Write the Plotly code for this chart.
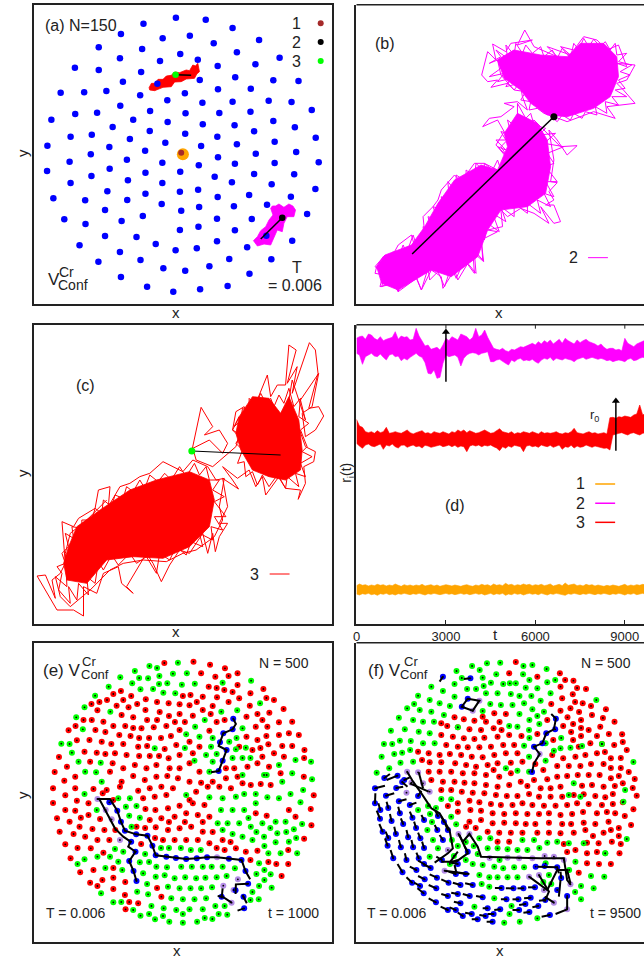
import plotly.graph_objects as go

# all values, in reading units of each panel (3 units = 1 screen pixel)
a_blue = [(459,53),(549,59),(361,71),(630,84),(293,102),(501,107),(419,115),(710,120),(573,130),(226,142),(357,147),(472,162),(643,157),(290,175),(772,173),(411,183),(525,179),(699,193),(154,203),(585,198),(226,210),(354,216),(638,232),(299,245),(531,240),(753,241),(829,243),(403,251),(111,278),(182,277),(249,273),(586,268),(685,266),(351,286),(486,280),(433,301),(630,305),(739,302),(808,306),(539,308),(291,317),(869,330),(155,342),(221,338),(381,333),(488,340),(590,339),(684,335),(83,359),(330,359),(434,366),(753,363),(268,381),(540,373),(636,376),(818,382),(380,393),(695,394),(141,410),(205,404),(487,401),(584,410),(881,413),(320,417),(427,428),(757,425),(643,433),(71,437),(258,441),(535,438),(366,452),(822,456),(202,463),(586,472),(700,461),(311,479),(138,485),(418,488),(890,487),(637,491),(757,489),(528,496),(259,506),(70,513),(204,528),(367,518),(472,515),(695,522),(816,523),(576,530),(141,549),(314,541),(418,549),(628,547),(748,553),(252,574),(880,567),(367,581),(471,575),(526,569),(585,591),(680,585),(806,590),(89,595),(185,601),(312,600),(416,612),(734,614),(634,619),(529,621),(245,630),(475,632),(855,642),(359,648),(122,658),(583,656),(688,657),(295,663),(186,672),(527,680),(471,690),(637,691),(245,708),(340,711),(732,707),(810,722),(583,724),(398,732),(168,736),(522,745),(674,742),(290,756),(458,751),(620,777),(747,778),(352,780),(225,785),(560,799),(421,805),(487,812),(681,821),(293,831),(372,860),(615,858),(532,868),(451,875)]
a_red_area = [(378,263),(385,250),(395,250),(405,238),(420,238),(430,228),(445,226),(455,216),(470,218),(490,210),(500,212),(510,195),(518,198),(525,190),(530,215),(522,222),(515,235),(490,237),(475,245),(455,246),(445,260),(420,262),(405,268),(395,272),(380,270)]
a_mag_area = [(745,625),(750,618),(760,618),(770,612),(785,622),(800,612),(812,618),(820,630),(815,650),(795,650),(785,670),(780,695),(765,690),(755,715),(745,735),(725,732),(705,738),(693,722),(705,710),(715,692),(730,680),(740,660),(752,645)]
a_line_3 = [(458,224),(505,226)]
a_line_2 = [(780,653),(715,717)]

b_area_1 = [(470,180),(520,150),(600,165),(680,170),(720,130),(790,130),(830,170),(835,230),(810,290),(760,325),(680,350),(620,345),(570,310),(540,270),(490,235)]
b_area_2 = [(105,800),(130,765),(210,735),(250,680),(290,610),(340,540),(420,495),(470,510),(500,440),(490,400),(530,340),(590,370),(620,420),(630,500),(615,580),(560,620),(480,630),(440,690),(410,770),(330,830),(270,810),(220,840),(170,870),(120,850)]
b_walk = [(640,350),(680,365),(760,335),(825,355),(800,320),(885,310),(850,270),(830,250),(860,240),(885,195),(830,190),(860,200),(835,135),(800,150),(770,120),(730,110),(700,150),(660,140),(690,165),(620,140),(650,170),(600,150),(580,140),(552,90),(530,135),(575,120),(510,130),(495,155),(455,132),(465,180),(440,155),(422,225),(440,245),(470,240),(450,262),(500,250),(520,270),(480,225),(470,180),(520,150),(545,290),(560,330),(530,305),(490,310),(520,320),(480,350),(445,355),(425,380),(470,360),(490,395),(465,435),(500,470),(480,440),(520,400),(580,360),(660,440),(710,437),(680,465),(650,420),(625,390),(640,480),(630,545),(650,548),(625,575),(640,600),(615,615),(640,615),(660,665),(640,670),(600,620),(625,670),(580,640),(540,625),(500,650),(480,630),(485,680),(440,690),(470,695),(420,720),(428,785),(400,760),(405,820),(380,790),(350,840),(340,810),(305,865),(300,830),(270,810),(240,870),(225,835),(170,875),(165,850),(115,860),(125,820),(100,800),(130,765),(140,790),(170,735),(210,705),(220,740),(250,700),(245,650),(275,620),(290,600),(300,570),(340,525),(360,545),(400,490),(430,490),(470,510)]
b_walk_2 = [(470,180),(445,190),(480,170),(465,150),(500,175),(495,135),(520,165),(525,130),(545,160),(555,135),(575,160),(600,140),(610,170),(635,150),(650,175),(665,145),(690,175),(700,130),(715,150),(730,115),(745,140),(760,118),(780,140),(795,125),(810,150),(825,130),(830,165),(860,160),(835,185),(875,195),(840,215),(870,225),(835,240),(855,265),(825,270),(860,290),(815,290),(835,315),(795,305),(800,340),(765,320),(770,345),(735,335),(725,355),(700,340),(690,360),(665,345),(650,365),(625,345),(610,340),(590,325),(565,330),(570,305),(540,300),(555,275),(520,270),(535,250),(495,260),(510,235),(470,245),(490,220),(445,230),(480,205),(470,180)]
b_walk_3 = [(105,800),(125,770),(135,790),(155,755),(170,775),(185,735),(195,760),(215,705),(225,735),(250,715),(245,680),(270,690),(260,650),(290,660),(275,620),(305,630),(300,590),(325,610),(320,545),(345,575),(345,525),(375,545),(375,510),(400,530),(405,490),(430,515),(430,490),(455,510),(470,480),(480,510),(495,470),(470,440),(495,450),(465,420),(495,420),(480,395),(510,400),(500,360),(530,385),(530,310),(555,355),(570,340),(580,375),(615,385),(595,405),(645,400),(610,430),(670,440),(620,460),(640,490),(615,500),(650,545),(615,545),(640,590),(610,580),(630,620),(590,600),(600,640),(560,610),(560,640),(520,610),(520,650),(480,620),(495,665),(455,640),(475,695),(440,670),(430,720),(420,690),(425,780),(395,745),(400,820),(370,780),(345,835),(330,800),(310,860),(290,815),(265,840),(260,805),(240,870),(220,820),(195,855),(180,835),(170,875),(150,845),(120,860),(130,825),(100,820),(105,800)]
b_line = [(640,350),(212,762)]

c_area_1 = [(650,290),(690,230),(740,235),(775,280),(800,230),(830,300),(840,390),(835,450),(790,480),(740,470),(690,450),(655,390),(640,340)]
c_area_2 = [(135,680),(160,620),(230,570),(320,510),(400,480),(500,455),(560,480),(575,540),(560,620),(500,680),(420,715),(330,710),(250,720),(190,790),(130,780),(120,730)]
c_walk = [(507,393),(535,262),(570,320),(545,345),(590,330),(615,370),(600,400),(560,360),(510,385),(520,420),(570,440),(640,380),(650,350),(630,330),(640,275),(665,260),(680,300),(735,165),(745,230),(765,195),(790,195),(800,75),(822,90),(795,190),(825,140),(810,220),(862,68),(880,90),(888,160),(878,200),(860,265),(890,260),(905,288),(880,330),(850,350),(840,280),(870,260),(890,160),(835,240),(850,300),(810,180),(800,240),(850,380),(880,395),(875,425),(845,440),(850,490),(828,538),(835,510),(790,505),(770,470),(730,525),(720,470),(700,500),(680,450),(645,475),(600,440),(630,480),(648,507),(600,475),(615,560),(590,610),(615,610),(590,650),(578,695),(570,640),(555,700),(540,640),(500,700),(470,690),(440,735),(415,785),(390,730),(370,700),(340,750),(310,800),(330,820),(295,790),(285,740),(240,760),(220,820),(180,800),(180,888),(150,870),(100,870),(70,820),(40,768),(65,765),(95,835),(85,780),(110,760),(125,730),(115,605),(150,620),(165,595),(215,565),(225,510),(260,500),(255,560),(290,500),(320,490),(350,470),(380,460),(420,425),(480,455),(510,420),(555,440),(580,480),(605,475),(590,560),(600,600),(575,650),(520,690),(480,700),(430,725),(360,720),(300,730),(260,750),(200,810),(140,860),(110,830),(95,770),(130,800),(125,700),(140,640),(190,600),(250,540)]
c_walk_2 = [(650,290),(635,320),(655,300),(660,265),(680,275),(680,235),(700,255),(715,220),(730,250),(745,235),(755,260),(770,225),(785,250),(800,205),(815,260),(835,235),(830,290),(860,310),(835,330),(855,380),(840,395),(870,410),(835,430),(850,470),(820,460),(830,500),(795,470),(790,505),(765,465),(740,500),(720,465),(705,495),(690,455),(670,470),(665,425),(645,430),(660,390),(640,370),(655,345),(630,330),(650,290)]
c_walk_3 = [(135,680),(125,640),(150,655),(145,620),(175,625),(175,600),(205,600),(215,565),(235,580),(240,540),(265,560),(275,525),(300,535),(310,500),(330,515),(350,480),(365,505),(380,465),(405,485),(425,460),(445,480),(470,440),(490,470),(515,430),(530,465),(550,440),(560,480),(590,480),(570,510),(605,530),(575,545),(610,590),(575,590),(600,630),(565,620),(570,660),(530,640),(540,680),(505,665),(490,705),(460,680),(440,720),(410,700),(400,760),(370,710),(340,730),(320,700),(285,735),(265,705),(240,750),(225,725),(215,790),(190,770),(195,825),(165,790),(160,840),(135,800),(140,850),(105,810),(115,760),(100,740),(125,730),(115,700),(135,680)]
c_line = [(507,393),(775,405)]

t_step = 100
r2_hi = [55,50,48,58,42,45,55,60,50,62,58,56,52,35,58,48,52,50,60,58,25,48,62,78,75,88,85,82,90,75,55,62,50,55,60,42,45,50,60,52,25,50,45,30,52,68,85,88,90,85,92,95,88,90,85,80,82,78,72,70,75,65,72,62,68,60,72,65,58,70,55,62,68,72,60,68,62,58,65,68,72,78,72,82,88,85,85,90,88,92,55,70,75,80,72,68,62,60,62,64]
r2_lo = [100,105,133,110,105,100,108,110,102,112,120,105,102,110,108,122,115,120,112,105,100,108,112,128,160,162,150,175,172,130,105,110,108,105,112,138,115,105,100,98,100,105,100,98,95,125,125,120,118,125,130,135,120,125,118,115,122,120,122,118,125,130,120,115,118,112,122,115,118,120,115,118,120,125,118,115,112,118,115,112,115,118,115,118,122,120,125,122,120,122,125,118,115,122,120,115,112,114,116,118]
r3_hi = [298,318,322,335,338,335,340,332,338,335,322,340,338,335,338,340,335,330,338,342,338,335,332,340,338,342,335,338,340,335,338,342,335,338,330,335,330,338,332,335,340,338,335,330,335,340,338,332,326,335,338,340,335,342,338,340,335,338,340,335,338,342,335,340,338,340,338,335,340,342,338,340,335,325,338,340,342,338,335,340,338,342,340,338,342,293,292,295,290,292,288,290,292,285,282,255,285,280,275,280]
r3_lo = [370,378,385,375,372,378,380,375,372,388,375,378,372,380,384,376,375,382,378,375,380,378,384,376,378,382,380,378,375,380,378,375,380,376,382,378,380,395,378,375,378,375,380,376,378,375,380,384,392,380,385,378,382,376,378,380,395,378,376,380,378,382,375,378,380,376,382,378,375,388,380,382,376,384,378,382,380,375,378,382,378,380,382,385,384,390,345,342,340,338,342,345,340,338,342,345,340,338,342,340]
r1_hi = [797,792,796,794,798,795,797,793,796,794,798,795,797,792,796,799,794,797,795,798,795,797,793,798,796,794,798,795,799,797,794,796,798,795,797,799,796,794,797,799,795,797,793,796,794,798,792,796,794,797,790,795,793,797,794,796,792,795,793,797,794,796,793,797,795,792,798,795,793,797,789,796,794,792,797,795,798,793,796,794,798,795,797,799,796,798,795,797,799,796,793,798,795,797,794,796,793,795,794,796]
r1_lo = [822,825,821,823,820,824,822,826,821,823,820,824,822,825,821,823,820,822,824,821,823,820,822,825,821,823,820,822,824,821,820,823,821,824,822,820,823,821,824,822,820,823,821,825,822,820,824,821,823,820,826,822,824,820,823,821,825,822,820,823,821,824,820,822,825,821,823,820,822,824,826,821,823,820,822,824,821,823,820,822,824,821,823,820,822,824,821,823,820,822,825,821,823,820,824,822,820,823,821,822]

e_red = [(424,69),(512,65),(562,74),(607,85),(645,100),(723,147),(755,180),(784,207),(810,245),(830,285),(847,330),(868,556),(866,507),(875,466),(846,596),(778,708),(135,271),(106,351),(93,396),(88,445),(88,489),(100,535),(108,575),(125,613),(141,655),(170,697),(200,728),(307,808),(293,153),(251,180),(535,100),(578,110),(558,140),(684,160),(645,135),(605,150),(650,175),(583,172),(540,170),(503,165),(368,178),(437,190),(500,196),(280,197),(316,202),(222,211),(205,240),(240,245),(295,225),(330,232),(367,210),(410,216),(470,222),(510,227),(470,193),(540,210),(682,197),(705,222),(741,218),(672,230),(770,247),(160,301),(198,300),(235,305),(270,258),(288,285),(322,288),(355,265),(392,262),(430,258),(470,270),(560,272),(700,260),(735,260),(800,280),(770,285),(738,313),(705,300),(672,290),(183,335),(220,338),(130,380),(275,340),(310,345),(345,320),(380,348),(437,355),(470,345),(510,340),(425,327),(460,315),(500,305),(530,320),(650,320),(690,330),(755,340),(720,350),(785,350),(200,365),(268,370),(300,385),(335,375),(370,385),(400,375),(433,408),(470,385),(500,370),(530,395),(635,385),(675,380),(705,370),(740,380),(155,410),(122,422),(260,395),(295,425),(330,408),(365,420),(400,410),(465,415),(500,425),(535,428),(570,425),(610,415),(645,410),(125,466),(155,445),(290,440),(345,452),(380,445),(415,440),(450,445),(520,455),(555,440),(590,440),(625,445),(660,430),(685,435),(715,432),(745,435),(430,465),(395,470),(360,475),(500,480),(160,482),(125,510),(210,447),(250,450),(155,512),(195,525),(230,537),(138,545),(172,533),(397,510),(367,507),(435,505),(470,497),(510,490),(545,495),(490,520),(525,525),(455,530),(415,535),(380,540),(340,560),(560,530),(700,520),(733,527),(820,530),(800,510),(150,582),(185,590),(207,567),(243,570),(222,600),(168,560),(202,625),(240,638),(435,570),(470,565),(505,560),(540,575),(398,562),(420,600),(455,600),(490,600),(525,600),(560,610),(600,600),(640,625),(670,635),(705,632),(210,690),(237,720),(270,747),(305,765),(345,790),(415,770),(270,713)]
e_red_2 = [(618,108),(582,144),(630,156),(270,162),(732,174),(618,186),(228,186),(204,192),(570,198),(564,222),(438,228),(606,240),(720,240),(180,240),(582,246),(456,246),(306,258),(156,258),(330,264),(216,270),(246,276),(444,288),(732,288),(378,294),(414,294),(348,294),(264,312),(300,312),(810,318),(780,318),(372,318),(714,324),(246,342),(348,348),(408,348),(846,354),(402,240),(372,240),(300,180),(324,168),(342,192),(402,186),(522,186),(480,168),(486,246),(440,385),(610,385),(775,400),(845,410),(238,460),(270,480),(195,490),(540,546),(486,546),(438,546),(366,564),(276,570),(570,576),(396,594),(258,600),(624,606),(354,612),(162,624),(582,624),(606,630),(798,630),(684,660),(738,666),(798,672),(762,672),(270,684),(306,726),(222,738),(402,744),(318,786)]
e_green = [(465,68),(379,78),(335,93),(291,112),(450,101),(492,100),(409,108),(375,115),(327,130),(256,140),(433,130),(477,134),(516,131),(600,128),(686,122),(352,148),(390,147),(421,158),(457,160),(215,167),(183,202),(713,190),(158,232),(261,215),(113,311),(178,268),(644,211),(596,215),(660,265),(517,260),(145,338),(530,290),(550,345),(620,305),(670,323),(640,328),(565,320),(395,325),(490,283),(515,362),(185,395),(218,397),(165,365),(232,368),(235,425),(560,395),(733,405),(770,375),(820,360),(780,425),(870,418),(867,365),(843,450),(183,462),(285,475),(320,475),(490,465),(560,472),(600,475),(640,470),(665,462),(700,462),(735,472),(770,475),(805,462),(835,487),(308,500),(340,498),(318,527),(350,533),(325,560),(595,510),(630,510),(665,510),(700,490),(585,550),(615,550),(650,550),(685,560),(720,550),(760,545),(790,545),(815,568),(800,605),(765,580),(725,590),(760,607),(690,600),(660,590),(825,640),(775,640),(738,640),(275,627),(300,635),(260,650),(183,658),(222,650),(285,665),(297,690),(350,667),(360,700),(400,680),(432,682),(475,680),(507,680),(540,680),(567,680),(600,680),(637,685),(710,670),(745,703),(710,738),(748,743),(709,778),(233,760),(270,787),(352,827),(396,838),(439,845),(480,848),(523,845),(569,837),(614,824),(425,706),(455,715),(487,712),(520,715),(548,713),(582,712),(398,710),(435,740),(470,745),(503,745),(535,745),(568,742),(342,755),(375,763),(445,775),(480,778),(515,778),(550,775),(385,798),(422,805),(460,810),(500,808),(540,808),(578,798)]
e_green_2 = [(402,84),(348,114),(408,132),(546,240),(642,294),(570,294),(138,312),(486,324),(582,342),(660,354),(630,354),(684,354),(570,365),(810,400),(660,405),(725,405),(220,510),(678,534),(840,552),(744,564),(600,570),(792,576),(702,576),(630,582),(822,594),(726,618),(474,624),(438,624),(414,624),(504,630),(534,630),(366,642),(378,666),(162,672),(246,684),(726,690),(702,702),(612,708),(726,720),(372,732),(690,756),(684,780),(294,786),(606,798),(330,810),(588,822),(378,822),(480,822),(420,828),(546,834)]
e_blue = [(632,236),(630,268),(602,280),(592,307),(612,330),(600,362),(588,393),(258,487),(282,512),(293,545),(305,572),(339,583),(373,587),(388,617),(398,646),(430,650),(459,654),(490,657),(522,655),(553,652),(619,656),(657,660),(669,693),(677,731),(639,751),(663,770),(665,805),(597,770),(324,605),(337,635),(318,663),(331,693),(340,723)]
e_lilac = [(222,477),(247,510),(265,538),(290,600),(583,652),(646,718),(602,737),(633,750),(627,788)]
e_path_1 = [(632,236),(640,252),(630,268),(602,280),(588,318),(612,330),(600,362),(588,393),(565,397)]
e_path_2 = [(222,477),(260,477),(282,512),(293,545),(305,572),(339,583),(373,587),(388,617),(398,646),(430,650),(459,654),(490,657),(522,655),(553,652),(583,652),(619,656),(657,660),(669,693),(683,718)]
e_path_3 = [(228,478),(250,520),(275,565),(300,590),(322,605),(315,620),(337,635),(318,663),(331,693),(340,723)]
e_path_4 = [(639,762),(640,733),(677,731)]
e_path_5 = [(660,765),(673,790)]
e_path_6 = [(665,805),(645,812)]
e_path_7 = [(585,768),(600,770),(627,788)]
e_path_8 = [(600,745),(597,775)]

f_red = [(525,66),(658,100),(699,122),(737,147),(797,208),(823,245),(846,283),(860,330),(884,417),(890,467),(880,508),(873,555),(838,640),(505,100),(590,110),(660,140),(697,163),(665,175),(727,190),(690,205),(755,225),(722,240),(780,260),(745,270),(822,315),(785,312),(750,310),(715,320),(681,232),(660,212),(460,220),(495,222),(425,230),(435,245),(400,242),(368,238),(340,232),(318,258),(350,262),(385,268),(420,270),(458,265),(300,285),(335,290),(368,295),(400,297),(430,293),(470,290),(505,285),(230,335),(262,340),(315,315),(350,320),(380,322),(415,322),(450,320),(487,315),(520,315),(295,345),(360,345),(392,350),(425,352),(460,345),(495,340),(530,340),(635,345),(668,355),(705,350),(735,345),(770,340),(812,355),(265,367),(300,367),(342,370),(375,375),(405,380),(440,375),(470,370),(510,368),(545,365),(650,378),(685,378),(720,378),(752,372),(790,372),(262,395),(295,395),(330,395),(365,400),(400,400),(435,405),(475,410),(510,400),(620,418),(650,410),(680,408),(712,405),(745,405),(778,405),(812,415),(848,430),(270,420),(305,425),(340,425),(370,428),(400,430),(435,435),(470,440),(505,435),(540,425),(580,420),(600,445),(630,445),(660,440),(725,437),(755,435),(790,440),(818,462),(300,450),(330,450),(362,455),(395,458),(430,460),(465,465),(498,468),(530,468),(565,462),(595,470),(630,470),(665,470),(700,465),(730,463),(765,468),(795,472),(848,487),(320,498),(350,490),(385,482),(415,487),(450,492),(480,495),(515,495),(545,490),(575,495),(610,497),(645,497),(680,495),(710,490),(745,492),(785,495),(825,520),(350,515),(388,510),(420,512),(455,520),(490,522),(525,520),(560,522),(595,522),(625,520),(660,525),(695,522),(770,520),(805,545),(455,550),(420,540),(385,545),(490,548),(525,550),(555,552),(590,578),(625,548),(665,552),(730,548),(765,552),(375,560),(440,575),(475,578),(510,578),(545,578),(625,578),(660,580),(700,578),(735,570),(790,578),(470,605),(505,605),(815,605),(775,610),(740,608),(740,640),(705,630),(670,612),(740,670),(715,698),(300,250)]
f_red_2 = [(674,120),(710,144),(704,186),(632,192),(752,198),(716,216),(788,234),(620,240),(476,246),(698,252),(668,258),(722,264),(482,270),(692,276),(806,282),(590,282),(542,288),(722,288),(770,288),(638,300),(698,300),(848,306),(794,336),(326,342),(842,354),(242,360),(584,372),(842,384),(812,384),(608,390),(458,390),(866,396),(836,408),(824,438),(878,444),(560,438),(818,492),(800,516),(728,516),(854,528),(836,564),(812,570),(692,552),(584,552),(758,588),(836,588),(842,612),(770,636),(680,636),(404,564),(776,672),(812,672)]
f_green = [(393,78),(438,70),(478,68),(575,75),(618,87),(768,180),(880,366),(855,450),(860,597),(795,640),(792,710),(760,745),(722,738),(722,778),(346,93),(270,140),(230,167),(197,205),(172,233),(148,272),(127,312),(120,350),(105,398),(143,385),(158,342),(175,302),(190,268),(215,240),(235,210),(265,180),(295,190),(305,153),(340,132),(378,147),(425,113),(466,103),(507,130),(547,103),(590,145),(620,127),(450,128),(487,132),(525,130),(405,147),(435,160),(470,160),(510,162),(555,143),(600,182),(630,160),(340,170),(448,192),(480,195),(515,195),(550,190),(575,208),(610,215),(425,213),(270,215),(308,225),(245,245),(278,245),(232,275),(265,280),(208,303),(245,310),(280,310),(182,338),(215,365),(177,368),(350,262),(530,260),(565,270),(615,310),(660,325),(690,323),(725,318),(785,312),(550,317),(565,350),(615,362),(640,332),(495,385),(530,392),(565,395),(700,430),(685,465),(720,470),(850,485),(330,530),(300,477),(330,478),(345,553),(258,570),(275,600),(265,650),(290,625),(415,595),(448,595),(440,625),(470,625),(500,628),(530,630),(620,608),(650,605),(685,610),(730,610),(795,640),(705,665),(395,672),(425,675),(460,680),(487,685),(520,682),(550,682),(415,705),(445,712),(470,712),(500,712),(530,712),(445,740),(460,775),(400,800),(490,848),(537,845),(590,835),(625,705),(615,670),(580,600),(545,600),(505,258)]
f_green_2 = [(548,78),(416,90),(362,114),(566,120),(644,120),(428,138),(572,168),(536,168),(218,192),(326,198),(536,222),(590,228),(566,240),(596,252),(662,294),(566,294),(152,312),(206,330),(260,498),(284,504),(230,510),(266,522),(272,546),(332,600),(338,648),(326,672),(422,732),(506,822),(512,798),(608,726),(632,732),(686,690),(704,756),(752,708),(374,606),(398,618),(596,624),(560,630),(410,642),(476,660),(374,660),(350,618)]
f_blue = [(305,110,295,125),(388,115,368,117),(100,445,130,437),(100,490,101,460),(115,536,105,512),(123,575,113,552),(138,617,130,595),(155,655,147,630),(183,697,168,672),(212,728,195,712),(247,760,228,745),(284,787,262,775),(320,810,298,800),(365,828,350,818),(410,838,392,838),(455,845,437,845),(168,407,135,420),(133,467,158,460),(172,484,195,478),(205,495,225,488),(150,543,145,522),(175,520,170,500),(185,552,178,535),(213,533,205,515),(200,592,195,570),(163,582,158,560),(178,622,172,600),(215,622,210,600),(237,595,230,578),(195,660,190,640),(232,655,225,638),(225,690,205,680),(268,684,245,672),(250,718,230,708),(287,713,265,703),(285,745,262,735),(322,728,300,718),(320,768,300,762),(358,735,335,728),(358,790,338,785),(395,735,372,730),(425,772,405,768),(518,745,495,745),(548,745,530,745),(583,742,562,742),(497,778,480,778),(533,778,515,778),(570,773,550,775),(593,798,575,802),(628,825,603,830),(535,810,515,810),(478,808,460,810),(440,805,425,805),(288,570,280,555),(305,600,295,585),(248,540,240,525),(380,635,370,618),(646,236,646,236),(644,268,644,268),(617,280,617,280),(605,310,605,310),(580,320,580,320),(574,396,574,396),(380,176,380,176),(362,200,362,200),(650,682,650,682),(585,680,585,680),(612,678,612,678),(650,750,650,750),(680,768,680,768),
 (128,414,145,402),(188,420,205,412),(182,426,198,440),(164,444,185,440),(230,468,240,452),(140,504,135,485),(116,510,110,490),(290,528,282,512),(308,546,300,530),(224,564,218,545),(320,570,312,552),(140,594,132,575),(248,624,242,605),(302,660,285,650),(248,672,230,662),(236,738,218,728),(350,762,330,758),(386,768,365,762),(344,810,325,802),(392,822,372,818),(434,828,415,825),(458,822,440,822),(350,672,330,668),(344,702,322,695),(374,702,352,698),(482,744,462,744),(566,816,548,818),(554,792,535,795),(614,780,595,782),(662,714,660,695)]
f_lilac = [(197,395),(230,397),(210,428),(195,458),(265,455),(245,430),(320,630),(310,692),(352,582),(385,582),(575,655),(612,648),(670,660),(690,733),(680,808),(640,788),(565,710),(595,705),(610,750),(500,653),(535,655),(640,650),(415,182),(395,212),(597,342),(446,654)]
f_paths = [
 [(632,222),(646,236),(640,268),(617,280),(605,310),(580,320),(597,342),(580,370),(574,396)],
 [(380,176),(415,182),(395,212),(362,200),(380,176)],
 [(197,395),(215,425),(240,460),(270,505),(295,520),(325,570),(335,625),(320,640),(280,668)],
 [(232,397),(245,445)],
 [(205,430),(262,455)],
 [(352,582),(365,605),(385,582),(410,620),(420,650),(480,652),(540,655),(600,655),(670,655),(680,720),(690,733)],
 [(355,585),(380,640),(345,665),(300,665)],
 [(350,635),(325,668),(350,660)],
 [(310,692),(385,702)],
 [(340,675),(345,695)],
 [(590,680),(650,682),(655,700)],
 [(565,710),(600,735),(620,750),(650,690),(680,690),(690,730)],
 [(595,705),(625,755),(612,785)],
 [(612,770),(640,788)],
 [(655,770),(660,720)],
 [(680,770),(680,808)],
 [(680,808),(645,822)],
]

t_ticks = [0,3000,6000,9000]
legend_names = ["1","2","3"]
d_legend_t = [8007,8675]
d_legend_label_t = 7505
d_legend_y = [492,550,607]
d_arrows = [(3000,185,30),(8700,392,237)]

RED,GREEN,BLUE,MAG,ORANGE,BROWN,LILAC,BLACK="#ff0000","#00ff00","#0000ff","#ff00ff","#ffa500","#a52a2a","#b48ce6","#000000"
W,H=644,958
FONT="Liberation Sans"
TXT="#222222"
P={1:(30.3,330.3,4.7,304,20,0),2:(354.7,644,4.7,304,340,0),3:(30.3,330.3,324.7,624,20,320),
   4:(354.7,644,324.7,624,340,320),5:(30.3,330.3,642.7,942,20,640),6:(354.7,644,642.7,942,340,640)}
fig=go.Figure()
def sfx(i): return "" if i==1 else str(i)
def un(p): return [q[0] for q in p],[q[1] for q in p]
def dots(i,p,c,s,sym="circle"):
    x,y=un(p)
    fig.add_trace(go.Scatter(x=x,y=y,mode="markers",marker=dict(color=c,size=s,symbol=sym,line=dict(width=0)),xaxis="x"+sfx(i),yaxis="y"+sfx(i),showlegend=False,hoverinfo="skip"))
def line(i,p,c,w):
    x,y=un(p)
    fig.add_trace(go.Scatter(x=x,y=y,mode="lines",line=dict(color=c,width=w),xaxis="x"+sfx(i),yaxis="y"+sfx(i),showlegend=False,hoverinfo="skip"))
def area(i,p,c):
    x,y=un(p)
    fig.add_trace(go.Scatter(x=x+x[:1],y=y+y[:1],mode="lines",fill="toself",fillcolor=c,line=dict(color=c,width=0.8),xaxis="x"+sfx(i),yaxis="y"+sfx(i),showlegend=False,hoverinfo="skip"))
ann=[]
def text(i,x,y,s,size=16):
    ann.append(dict(x=x,y=y,xref="x"+sfx(i),yref="y"+sfx(i),text=s,showarrow=False,xanchor="center",yanchor="middle",font=dict(family=FONT,size=size,color=TXT)))
def ptext(x,y,s,size=15,rot=0):
    ann.append(dict(x=x/W,y=1-y/H,xref="paper",yref="paper",text=s,showarrow=False,xanchor="center",yanchor="middle",textangle=rot,font=dict(family=FONT,size=size,color=TXT)))

# (a)
area(1,a_red_area,RED); area(1,a_mag_area,MAG)
dots(1,a_blue,BLUE,6.5)
dots(1,[(480,463)],ORANGE,12); dots(1,[(475,458)],BROWN,6)
line(1,a_line_3,BLACK,1.5); line(1,a_line_2,BLACK,1.5)
dots(1,[(458,224)],GREEN,6.5); dots(1,[(780,653)],BLACK,6.5)
dots(1,[(896,70)],BROWN,6); dots(1,[(896,126)],BLACK,6); dots(1,[(896,183)],GREEN,6)
for n,yy in zip(legend_names,[72,128,185]): text(1,823,yy,n)
text(1,171,77,"(a) N=150")
text(1,90,838,"V",17); text(1,130,815,"Cr",14); text(1,147,855,"Conf",14)
text(1,823,803,"T"); text(1,819,855,"= 0.006")
# (b)
area(2,b_area_1,MAG); area(2,b_area_2,MAG)
for w in (b_walk,b_walk_2,b_walk_3): line(2,w,MAG,1)
line(2,b_line,BLACK,1.5); dots(2,[b_line[0]],BLACK,7)
text(2,129,130,"(b)"); text(2,698,773,"2"); line(2,[(743,773),(803,773)],MAG,1)
# (c)
area(3,c_area_1,RED); area(3,c_area_2,RED)
for w in (c_walk,c_walk_2,c_walk_3): line(3,w,RED,1)
line(3,c_line,BLACK,1); dots(3,[c_line[0]],GREEN,7)
text(3,186,197,"(c)"); text(3,697,762,"3"); line(3,[(742,762),(802,762)],RED,1)
# (d)
for hi,lo,c in [(r2_hi,r2_lo,MAG),(r3_hi,r3_lo,RED),(r1_hi,r1_lo,ORANGE)]:
    n=min(len(hi),len(lo)); t=[k*t_step for k in range(n)]
    fig.add_trace(go.Scatter(x=t+t[::-1],y=hi[:n]+lo[:n][::-1],mode="lines",fill="toself",fillcolor=c,line=dict(color=c,width=0.6),xaxis="x4",yaxis="y4",showlegend=False,hoverinfo="skip"))
for tt,y0,y1 in d_arrows:
    line(4,[(tt,y0),(tt,y1+6)],BLACK,1.5); dots(4,[(tt,y1+6)],BLACK,7,"triangle-up")
text(4,7973,287,"r<sub>0</sub>",13); text(4,3296,556,"(d)")
for n,yy,c in zip(legend_names,d_legend_y,[ORANGE,MAG,RED]):
    text(4,d_legend_label_t,yy,n)
    line(4,[(d_legend_t[0],yy),(d_legend_t[1],yy)],c,1.5)
# (e), (f)
for i,R,G,Bl,Li in [(5,e_red+e_red_2,e_green+e_green_2,e_blue,e_lilac),(6,f_red+f_red_2,f_green+f_green_2,[q[:2] for q in f_blue],f_lilac)]:
    dots(i,R,RED,6); dots(i,G,GREEN,6); dots(i,Li,LILAC,6); dots(i,Bl,BLUE,6)
    dots(i,R+G+Li+Bl,BLACK,1.8)
for p in [e_path_1,e_path_2,e_path_3,e_path_4,e_path_5,e_path_6,e_path_7,e_path_8]: line(5,p,BLACK,2)
text(5,115,90,"(e) V",17); text(5,198,65,"Cr",13); text(5,216,103,"Conf",13)
text(5,786,70,"N = 500",14); text(5,156,820,"T = 0.006",14); text(5,813,820,"t = 1000",14)
for q in f_blue:
    if q[:2]!=q[2:]: line(6,[q[:2],q[2:]],BLACK,2)
for p in f_paths: line(6,p,BLACK,2)
text(6,128,90,"(f) V",17); text(6,208,65,"Cr",13); text(6,218,103,"Conf",13)
text(6,798,70,"N = 500",14); text(6,167,820,"T = 0.006",14); text(6,827,820,"t = 9500",14)

# labels
for xx,yy in [(173,312),(498,312),(173,631),(499,950),(174,950)]: ptext(xx,yy,"x",15)
for xx,yy in [(18,153),(18,473),(18,795)]: ptext(xx,yy,"y",15,-90)
ptext(345,473,"r<sub>i</sub>(t)",14,-90); ptext(495,634,"t",15)

lay=dict(width=W,height=H,autosize=False,margin=dict(l=0,r=0,t=0,b=0),paper_bgcolor="white",plot_bgcolor="white",annotations=ann,showlegend=False)
shapes=[]
for i,(l,r,tp,b,ox,oy) in P.items():
    xr=[(l-ox)*3,(r-ox)*3]; yr=[(b-oy)*3,(tp-oy)*3]
    mirror=(i%2==1)
    xa=dict(domain=[l/W,r/W],range=xr,showgrid=False,zeroline=False,showticklabels=False,ticks="",showline=True,linecolor="#222222",linewidth=1.5,mirror=mirror,anchor="y"+sfx(i),fixedrange=True)
    ya=dict(domain=[1-b/H,1-tp/H],range=yr,showgrid=False,zeroline=False,showticklabels=False,ticks="",showline=True,linecolor="#222222",linewidth=1.5,mirror=mirror,anchor="x"+sfx(i),fixedrange=True)
    if i==4:
        xa.update(range=[0,(r-l)*10000/300],tickvals=t_ticks,ticktext=[str(v) for v in t_ticks],showticklabels=True,ticks="inside",ticklen=4,tickcolor="#222222",tickfont=dict(family=FONT,size=13,color=TXT))
    lay["xaxis"+sfx(i)]=xa; lay["yaxis"+sfx(i)]=ya
    if not mirror:
        shapes.append(dict(type="line",xref="paper",yref="paper",x0=l/W,x1=1,y0=1-tp/H,y1=1-tp/H,line=dict(color="#222222",width=1.5)))
for v in t_ticks:
    shapes.append(dict(type="line",xref="x4",yref="y4",x0=v,x1=v,y0=14,y1=26,line=dict(color="#222222",width=1)))
lay["shapes"]=shapes
fig.update_layout(**lay)
fig.write_html("out.html",config={"displayModeBar":False},post_script="document.body.style.margin='0';document.documentElement.style.overflow='hidden';window.dispatchEvent(new Event('resize'));")
